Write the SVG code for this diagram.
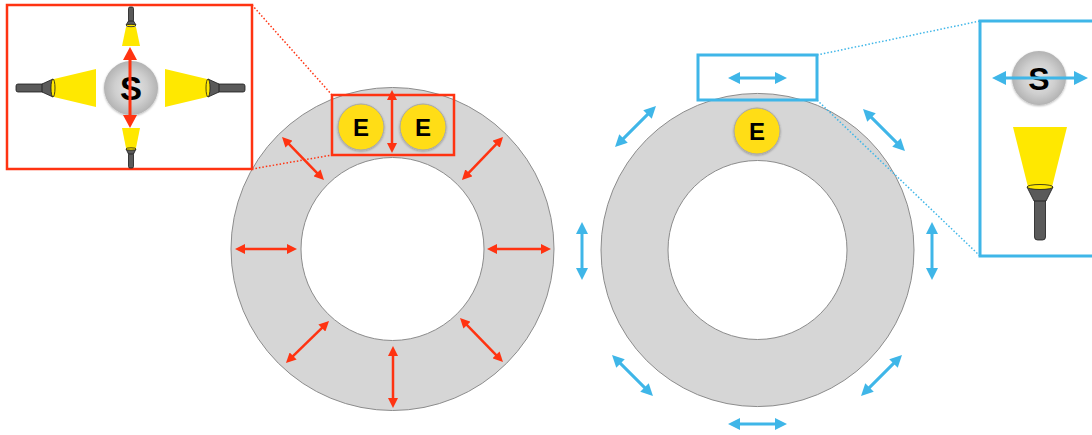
<svg xmlns="http://www.w3.org/2000/svg" width="1092" height="435" viewBox="0 0 1092 435">
  <style>
    .ring { fill: #d6d6d6; stroke: #8c8c8c; stroke-width: 1; fill-rule: evenodd; }
    .red { stroke: #ff3311; fill: none; }
    .blue { stroke: #3fb6e8; fill: none; }
    .redArrow { stroke: #ff3311; stroke-width: 2.5; fill: none; marker-start: url(#ar); marker-end: url(#ar); }
    .blueArrow { stroke: #3fb6e8; stroke-width: 3; fill: none; marker-start: url(#ab); marker-end: url(#ab); }
    .dotRed { stroke: #ff3311; stroke-width: 1.5; stroke-dasharray: 1.5 2; fill: none; }
    .dotBlue { stroke: #3fb6e8; stroke-width: 1.5; stroke-dasharray: 1.5 2; fill: none; }
    .eball { fill: #ffdd14; stroke: #a8a8a8; stroke-width: 1; filter: url(#shadow); }
    .sball { fill: url(#sgrad); filter: url(#shadow); }
    .lbl { font-family: "Liberation Sans", Arial, sans-serif; font-weight: bold; fill: #000; text-anchor: middle; }
    .beam { fill: #ffe800; }
    .body { fill: #5a5a5a; stroke: #1a1a1a; stroke-width: 0.8; }
    .lens { fill: #ffe800; stroke: #1a1a1a; stroke-width: 0.8; }
  </style>
  <defs>
    <radialGradient id="sgrad" cx="0.5" cy="0.5" r="0.5">
      <stop offset="0" stop-color="#e6e6e6"/>
      <stop offset="0.6" stop-color="#cfcfcf"/>
      <stop offset="1" stop-color="#b3b3b3"/>
    </radialGradient>
    <filter id="shadow" x="-20%" y="-20%" width="140%" height="140%">
      <feDropShadow dx="0" dy="1" stdDeviation="1" flood-color="#000" flood-opacity="0.3"/>
    </filter>
    <marker id="ar" viewBox="0 0 10 10" markerWidth="10" markerHeight="10" refX="2" refY="5" orient="auto-start-reverse" markerUnits="userSpaceOnUse">
      <path d="M0,0 L10,5 L0,10 z" fill="#ff3311"/>
    </marker>
    <marker id="arL" viewBox="0 0 13 14" markerWidth="13" markerHeight="14" refX="2" refY="7" orient="auto-start-reverse" markerUnits="userSpaceOnUse">
      <path d="M0,0 L13,7 L0,14 z" fill="#ff3311"/>
    </marker>
    <marker id="ab" viewBox="0 0 12 12" markerWidth="12" markerHeight="12" refX="2" refY="6" orient="auto-start-reverse" markerUnits="userSpaceOnUse">
      <path d="M0,0 L12,6 L0,12 z" fill="#3fb6e8"/>
    </marker>
    <marker id="abL" viewBox="0 0 14 14" markerWidth="14" markerHeight="14" refX="2" refY="7" orient="auto-start-reverse" markerUnits="userSpaceOnUse">
      <path d="M0,0 L14,7 L0,14 z" fill="#3fb6e8"/>
    </marker>
  </defs>

  <rect width="1092" height="435" fill="#ffffff"/>

  <!-- left ring -->
  <g id="ring-left">
    <path class="ring" d="M231,249 a161.5,161.5 0 1,0 323,0 a161.5,161.5 0 1,0 -323,0 z M301,249 a91.5,91.5 0 1,1 183,0 a91.5,91.5 0 1,1 -183,0 z"/>
  </g>

  <!-- right ring -->
  <g id="ring-right">
    <path class="ring" d="M601,250 a156.5,156.5 0 1,0 313,0 a156.5,156.5 0 1,0 -313,0 z M668,250 a89.5,89.5 0 1,1 179,0 a89.5,89.5 0 1,1 -179,0 z"/>
  </g>

  <!-- electrons -->
  <g id="e-left-1">
    <circle class="eball" cx="361" cy="127" r="23"/>
    <text class="lbl" x="361" y="135.5" font-size="24">E</text>
  </g>
  <g id="e-left-2">
    <circle class="eball" cx="423" cy="127" r="23"/>
    <text class="lbl" x="423" y="135.5" font-size="24">E</text>
  </g>
  <g id="e-right">
    <circle class="eball" cx="757" cy="131" r="23"/>
    <text class="lbl" x="757" y="139.5" font-size="24">E</text>
  </g>

  <!-- zoom frames on the rings -->
  <g id="frame-left">
    <rect class="red" x="332" y="95" width="122" height="60" stroke-width="2.5"/>
  </g>
  <g id="frame-right">
    <rect class="blue" x="698" y="55" width="119" height="45" stroke-width="3"/>
  </g>

  <!-- connectors -->
  <g id="connectors">
    <!-- left ring: scattering in all directions -->
    <line class="redArrow" x1="392" y1="98" x2="392" y2="145"/>
    <line class="redArrow" x1="287.6" y1="142.7" x2="318.4" y2="174.3"/>
    <line class="redArrow" x1="243" y1="249" x2="289" y2="249"/>
    <line class="redArrow" x1="291.7" y1="357.4" x2="323.3" y2="326.6"/>
    <line class="redArrow" x1="393" y1="354" x2="393" y2="400"/>
    <line class="redArrow" x1="465.6" y1="323.7" x2="497.4" y2="356.3"/>
    <line class="redArrow" x1="497.5" y1="142.8" x2="467.5" y2="174.2"/>
    <line class="redArrow" x1="495" y1="249" x2="543" y2="249"/>

    <!-- right ring: tangential motion -->
    <line class="blueArrow" x1="738" y1="78" x2="777" y2="78"/>
    <line class="blueArrow" x1="622.1" y1="139.9" x2="648.9" y2="113.1"/>
    <line class="blueArrow" x1="870.1" y1="116.1" x2="897.9" y2="143.9"/>
    <line class="blueArrow" x1="582" y1="232" x2="582" y2="270"/>
    <line class="blueArrow" x1="932" y1="232" x2="932" y2="270"/>
    <line class="blueArrow" x1="619.1" y1="362.1" x2="645.9" y2="388.9"/>
    <line class="blueArrow" x1="894.9" y1="362.1" x2="868.1" y2="388.9"/>
    <line class="blueArrow" x1="738" y1="424" x2="777" y2="424"/>

    <!-- callout guides -->
    <line class="dotRed" x1="252" y1="5" x2="332" y2="95"/>
    <line class="dotRed" x1="252" y1="169" x2="332" y2="155"/>
    <line class="dotBlue" x1="817" y1="55" x2="980" y2="21"/>
    <line class="dotBlue" x1="817" y1="100" x2="980" y2="256"/>
  </g>

  <!-- left detail panel: four lights around S -->
  <g id="panel-left">
    <rect class="red" x="7" y="5" width="245" height="164" stroke-width="2.5" fill="#ffffff"/>
    <!-- top light -->
    <polygon class="beam" points="126,27 136,27 140,46 122,46"/>
    <rect class="body" x="128.5" y="7" width="5" height="15" rx="1.5"/>
    <polygon class="body" points="128.5,21 133.5,21 136,25 126,25"/>
    <ellipse class="lens" cx="131" cy="25.5" rx="5" ry="1.2"/>
    <!-- bottom light -->
    <polygon class="beam" points="122,128 140,128 136,148 126,148"/>
    <rect class="body" x="128.5" y="153" width="5" height="15" rx="1.5"/>
    <polygon class="body" points="126,149 136,149 133.5,154 128.5,154"/>
    <ellipse class="lens" cx="131" cy="149" rx="5" ry="1.2"/>
    <!-- left light -->
    <polygon class="beam" points="54,79 96,69 96,107 54,97"/>
    <rect class="body" x="16" y="84" width="28" height="8" rx="2"/>
    <polygon class="body" points="42,84 53,79 53,97 42,92"/>
    <ellipse class="lens" cx="53" cy="88" rx="2" ry="9"/>
    <!-- right light -->
    <polygon class="beam" points="207,79 165,69 165,107 207,97"/>
    <rect class="body" x="217" y="84" width="28" height="8" rx="2"/>
    <polygon class="body" points="219,84 208,79 208,97 219,92"/>
    <ellipse class="lens" cx="208" cy="88" rx="2" ry="9"/>
    <!-- S -->
    <circle class="sball" cx="131" cy="88" r="27"/>
    <text class="lbl" x="131" y="100" font-size="33">S</text>
    <line x1="130" y1="58" x2="130" y2="117" stroke="#ff3311" stroke-width="3" marker-start="url(#arL)" marker-end="url(#arL)"/>
  </g>

  <!-- right detail panel: one light below S -->
  <g id="panel-right">
    <rect class="blue" x="980" y="21" width="125" height="235" stroke-width="3" fill="#ffffff"/>
    <polygon class="beam" points="1013,127 1067,127 1052,187 1028,187"/>
    <rect class="body" x="1034.5" y="198" width="11" height="42" rx="3"/>
    <polygon class="body" points="1027,187 1053,187 1046,201 1034,201"/>
    <ellipse class="lens" cx="1040" cy="187" rx="13" ry="2.5"/>
    <circle class="sball" cx="1039" cy="78" r="27"/>
    <text class="lbl" x="1039" y="90" font-size="32">S</text>
    <line x1="1004" y1="78" x2="1076" y2="78" stroke="#3fb6e8" stroke-width="3" marker-start="url(#abL)" marker-end="url(#abL)"/>
  </g>
</svg>
